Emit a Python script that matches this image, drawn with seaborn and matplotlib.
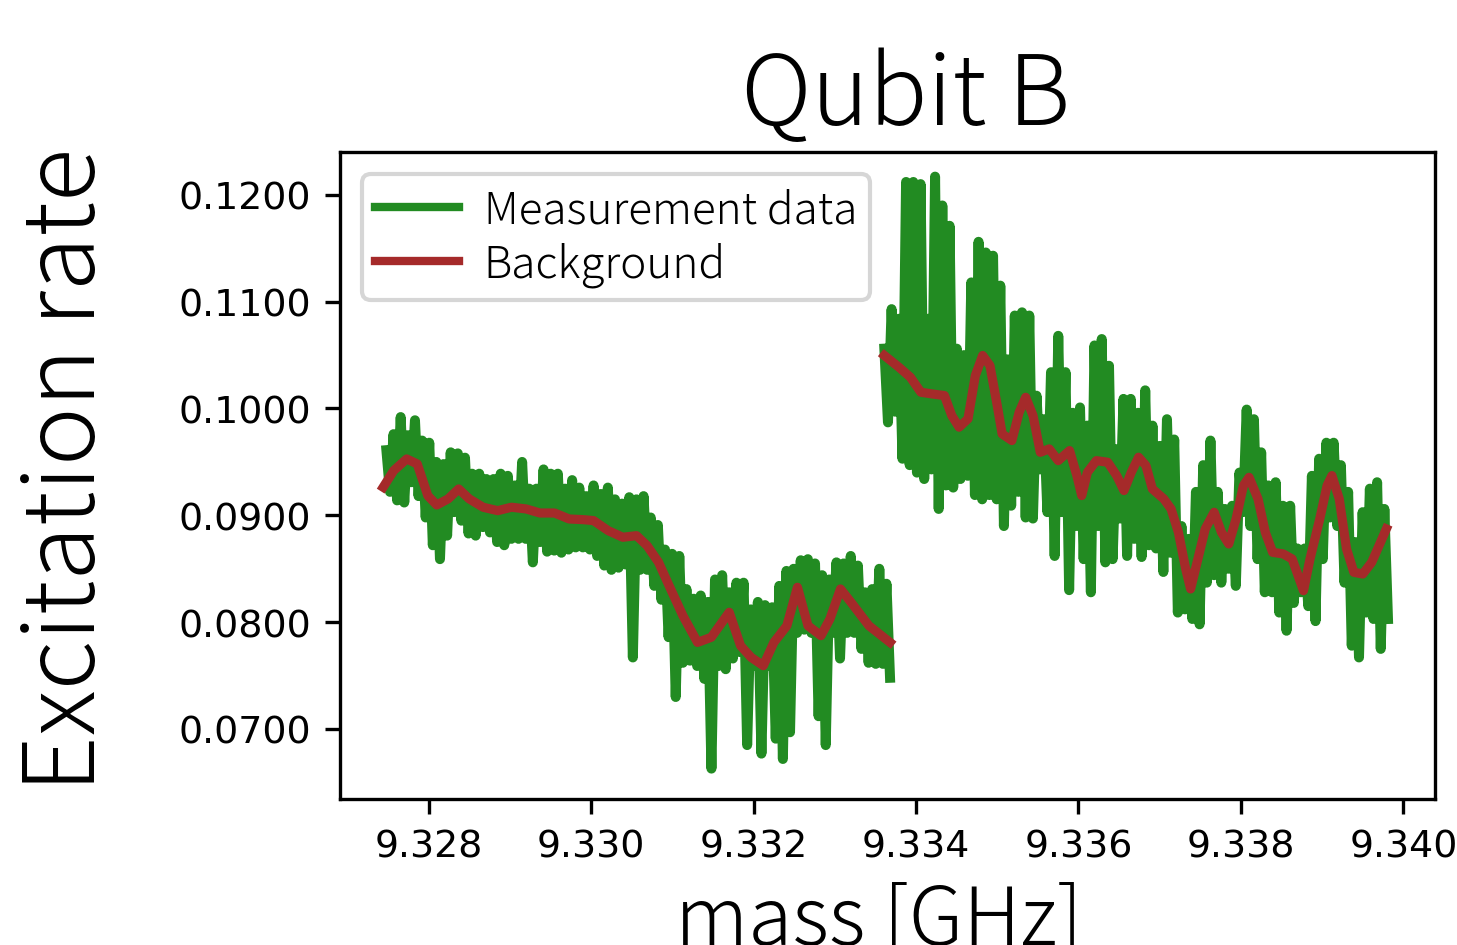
import numpy as np
import pandas as pd
import seaborn as sns
import matplotlib.pyplot as plt
from matplotlib.ticker import FormatStrFormatter, MultipleLocator

# frequency sweeps (GHz) of the two scan windows
scan1_start, scan1_stop = 9.32748, 9.33368
scan2_start, scan2_stop = 9.33361, 9.33981

# excitation rate (upper / lower excursions in turn)
scan1_rate = [
    0.0961, 0.0922, 0.0976, 0.0914, 0.0992, 0.0912, 0.0975, 0.0931, 0.0989, 0.0918,
    0.0970, 0.0898, 0.0968, 0.0872, 0.0950, 0.0859, 0.0948, 0.0881, 0.0959, 0.0903,
    0.0958, 0.0895, 0.0954, 0.0883, 0.0939, 0.0881, 0.0939, 0.0889, 0.0934, 0.0884,
    0.0934, 0.0875, 0.0939, 0.0872, 0.0937, 0.0878, 0.0928, 0.0878, 0.0950, 0.0878,
    0.0925, 0.0856, 0.0925, 0.0875, 0.0943, 0.0866, 0.0939, 0.0867, 0.0939, 0.0865,
    0.0925, 0.0868, 0.0933, 0.0870, 0.0926, 0.0870, 0.0918, 0.0868, 0.0928, 0.0862,
    0.0920, 0.0853, 0.0926, 0.0849, 0.0915, 0.0851, 0.0911, 0.0854, 0.0917, 0.0767,
    0.0915, 0.0849, 0.0918, 0.0849, 0.0898, 0.0834, 0.0891, 0.0821, 0.0868, 0.0786,
    0.0864, 0.0730, 0.0862, 0.0762, 0.0831, 0.0764, 0.0822, 0.0759, 0.0825, 0.0747,
    0.0819, 0.0663, 0.0840, 0.0759, 0.0844, 0.0756, 0.0828, 0.0766, 0.0837, 0.0772,
    0.0837, 0.0685, 0.0812, 0.0759, 0.0819, 0.0677, 0.0816, 0.0759, 0.0814, 0.0691,
    0.0834, 0.0672, 0.0848, 0.0697, 0.0850, 0.0790, 0.0858, 0.0793, 0.0859, 0.0790,
    0.0855, 0.0712, 0.0844, 0.0685, 0.0840, 0.0790, 0.0856, 0.0766, 0.0855, 0.0790,
    0.0862, 0.0790, 0.0853, 0.0775, 0.0828, 0.0762, 0.0831, 0.0761, 0.0850, 0.0761,
    0.0836, 0.0748,
]
scan2_rate = [
    0.1056, 0.0987, 0.1093, 0.0997, 0.1084, 0.0953, 0.1212, 0.0947, 0.1212, 0.0940,
    0.1210, 0.0934, 0.1084, 0.0943, 0.1217, 0.0906, 0.1190, 0.0928, 0.1171, 0.0926,
    0.1056, 0.0934, 0.1050, 0.0937, 0.1118, 0.0919, 0.1156, 0.0915, 0.1146, 0.0919,
    0.1143, 0.0915, 0.1115, 0.0890, 0.1046, 0.0909, 0.1087, 0.0922, 0.1090, 0.0898,
    0.1087, 0.0897, 0.1012, 0.0943, 0.0990, 0.0903, 0.1034, 0.0862, 0.1068, 0.0903,
    0.1034, 0.0830, 0.0996, 0.0890, 0.1001, 0.0859, 0.0984, 0.0828, 0.1059, 0.0890,
    0.1065, 0.0856, 0.1040, 0.0859, 0.0962, 0.0897, 0.1009, 0.0862, 0.1009, 0.0878,
    0.0996, 0.0861, 0.1017, 0.0872, 0.0984, 0.0869, 0.0965, 0.0847, 0.0990, 0.0865,
    0.0971, 0.0809, 0.0890, 0.0812, 0.0878, 0.0803, 0.0922, 0.0798, 0.0947, 0.0837,
    0.0970, 0.0844, 0.0922, 0.0837, 0.0906, 0.0850, 0.0909, 0.0834, 0.0940, 0.0903,
    0.0999, 0.0890, 0.0990, 0.0859, 0.0959, 0.0828, 0.0928, 0.0828, 0.0931, 0.0809,
    0.0909, 0.0792, 0.0909, 0.0818, 0.0869, 0.0828, 0.0869, 0.0815, 0.0937, 0.0801,
    0.0953, 0.0859, 0.0968, 0.0898, 0.0968, 0.0890, 0.0947, 0.0837, 0.0922, 0.0778,
    0.0875, 0.0767, 0.0903, 0.0809, 0.0925, 0.0803, 0.0931, 0.0775, 0.0906, 0.0803,
]

# smooth background estimate
bg1_mass = [
    9.32744, 9.32757, 9.32773, 9.32786, 9.32799, 9.32810, 9.32824, 9.32837, 9.32850,
    9.32867, 9.32885, 9.32902, 9.32920, 9.32937, 9.32955, 9.32973, 9.32990, 9.33003,
    9.33021, 9.33039, 9.33056, 9.33069, 9.33083, 9.33096, 9.33113, 9.33131, 9.33148,
    9.33170, 9.33184, 9.33197, 9.33212, 9.33225, 9.33241, 9.33254, 9.33267, 9.33283,
    9.33294, 9.33307, 9.33320, 9.33342, 9.33368,
]
bg1_rate = [
    0.09263, 0.09419, 0.09528, 0.09481, 0.09184, 0.09097, 0.09154, 0.09247, 0.09154,
    0.09076, 0.09044, 0.09076, 0.09060, 0.09022, 0.09022, 0.08966, 0.08960, 0.08951,
    0.08857, 0.08795, 0.08810, 0.08716, 0.08561, 0.08342, 0.08061, 0.07811, 0.07859,
    0.08093, 0.07780, 0.07671, 0.07593, 0.07811, 0.07967, 0.08327, 0.07967, 0.07874,
    0.08030, 0.08311, 0.08186, 0.07967, 0.07811,
]
bg2_mass = [
    9.33361, 9.33379, 9.33393, 9.33406, 9.33419, 9.33435, 9.33444, 9.33453, 9.33464,
    9.33473, 9.33482, 9.33491, 9.33500, 9.33506, 9.33518, 9.33527, 9.33535, 9.33544,
    9.33553, 9.33564, 9.33575, 9.33589, 9.33598, 9.33604, 9.33611, 9.33622, 9.33636,
    9.33647, 9.33656, 9.33665, 9.33674, 9.33683, 9.33691, 9.33705, 9.33714, 9.33723,
    9.33732, 9.33738, 9.33747, 9.33756, 9.33767, 9.33776, 9.33785, 9.33794, 9.33803,
    9.33810, 9.33821, 9.33830, 9.33839, 9.33852, 9.33863, 9.33877, 9.33885, 9.33897,
    9.33906, 9.33912, 9.33921, 9.33930, 9.33939, 9.33950, 9.33961, 9.33970, 9.33979,
]
bg2_rate = [
    0.10496, 0.10386, 0.10293, 0.10152, 0.10137, 0.10121, 0.09934, 0.09825, 0.09903,
    0.10308, 0.10496, 0.10402, 0.10027, 0.09762, 0.09700, 0.09965, 0.10105, 0.09934,
    0.09590, 0.09622, 0.09512, 0.09606, 0.09372, 0.09185, 0.09403, 0.09512, 0.09497,
    0.09372, 0.09232, 0.09403, 0.09544, 0.09466, 0.09247, 0.09154, 0.09060, 0.08841,
    0.08498, 0.08311, 0.08592, 0.08873, 0.09029, 0.08841, 0.08732, 0.08966, 0.09278,
    0.09356, 0.09154, 0.08841, 0.08654, 0.08639, 0.08592, 0.08295, 0.08592, 0.08966,
    0.09278, 0.09372, 0.09154, 0.08685, 0.08467, 0.08451, 0.08561, 0.08717, 0.08873,
]

plt.rcParams['font.family'] = ['Noto Sans CJK JP', 'DejaVu Sans']

scan1 = pd.DataFrame({'mass': np.linspace(scan1_start, scan1_stop, len(scan1_rate)),
                      'rate': scan1_rate})
scan2 = pd.DataFrame({'mass': np.linspace(scan2_start, scan2_stop, len(scan2_rate)),
                      'rate': scan2_rate})
bg1 = pd.DataFrame({'mass': bg1_mass, 'rate': bg1_rate})
bg2 = pd.DataFrame({'mass': bg2_mass, 'rate': bg2_rate})

fig = plt.figure(figsize=(4.857, 3.153), dpi=300)
ax = fig.add_axes([0.2334, 0.1543, 0.7515, 0.6840])

green = '#228B22'
red = '#A52A2A'
sns.lineplot(data=scan1, x='mass', y='rate', ax=ax, color=green, lw=2.4,
             estimator=None, label='Measurement data')
sns.lineplot(data=scan2, x='mass', y='rate', ax=ax, color=green, lw=2.4,
             estimator=None)
sns.lineplot(data=bg1, x='mass', y='rate', ax=ax, color=red, lw=2.2,
             estimator=None, label='Background')
sns.lineplot(data=bg2, x='mass', y='rate', ax=ax, color=red, lw=2.2,
             estimator=None)

ax.set_xlim(9.32691, 9.34039)
ax.set_ylim(0.06345, 0.1240)
ax.xaxis.set_major_locator(MultipleLocator(0.002))
ax.yaxis.set_major_locator(MultipleLocator(0.01))
ax.xaxis.set_major_formatter(FormatStrFormatter('%.3f'))
ax.yaxis.set_major_formatter(FormatStrFormatter('%.4f'))
ax.tick_params(labelsize=9.1, labelfontfamily='DejaVu Sans')
ax.set_xlabel('')
ax.set_ylabel('')

leg = ax.legend(loc='upper left', labelspacing=0.2, borderpad=0.3,
                handlelength=1.9, handletextpad=0.55,
                prop={'size': 10.6, 'weight': 'light'})
for line in leg.get_lines():
    line.set_linewidth(2.0)

fig.text(0.6218, 0.8679, 'Qubit B', ha='center', va='baseline', fontsize=23.3,
         fontweight='light')
fig.text(0.0460, 0.503, 'Excitation rate', rotation=90, ha='center', va='center',
         fontsize=23.8, fontweight='light')
fig.text(0.6033, 0.001, 'mass [GHz]', ha='center', va='baseline', fontsize=19.4,
         fontweight='light')

fig.savefig('out.png', dpi=300)
